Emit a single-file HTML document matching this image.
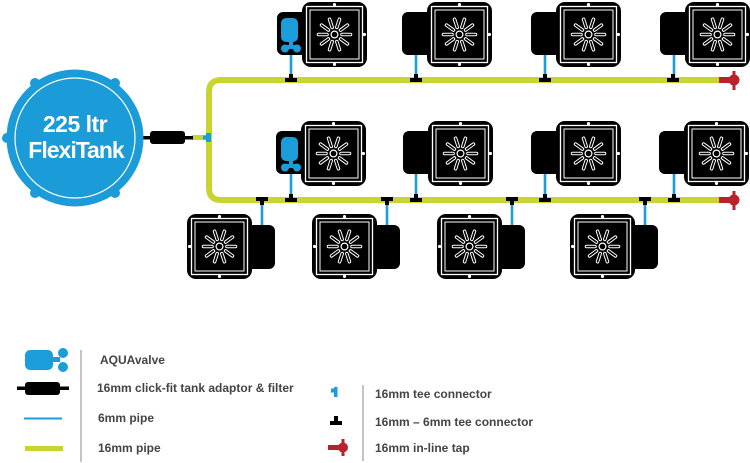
<!DOCTYPE html>
<html><head><meta charset="utf-8"><style>
html,body{margin:0;padding:0;background:#fff;}
svg{display:block;}
text{font-family:"Liberation Sans",sans-serif;}
</style></head><body>
<svg width="750" height="463" viewBox="0 0 750 463" xmlns="http://www.w3.org/2000/svg">
<defs>
  <g id="tray">
    <rect x="0" y="0" width="65" height="65" rx="9" fill="#000"/>
    <rect x="4.5" y="4.5" width="56" height="56" fill="none" stroke="#fff" stroke-width="1.3"/>
    <rect x="8" y="8" width="49" height="49" fill="none" stroke="#fff" stroke-width="1"/>
    <circle cx="32.5" cy="2.6" r="1.6" fill="#fff"/>
    <circle cx="32.5" cy="62.4" r="1.6" fill="#fff"/>
    <g transform="translate(32.5 32.5)">
      <circle r="3.4" fill="none" stroke="#fff" stroke-width="1.2"/>
      <path d="M7.5 0L16 0M6.07 4.41L12.94 9.4M2.32 7.13L4.94 15.22M-2.32 7.13L-4.94 15.22M-6.07 4.41L-12.94 9.4M-7.5 0L-16 0M-6.07 -4.41L-12.94 -9.4M-2.32 -7.13L-4.94 -15.22M2.32 -7.13L4.94 -15.22M6.07 -4.41L12.94 -9.4" stroke="#fff" stroke-width="3.6" stroke-linecap="round" fill="none"/>
      <path d="M7.5 0L16 0M6.07 4.41L12.94 9.4M2.32 7.13L4.94 15.22M-2.32 7.13L-4.94 15.22M-6.07 4.41L-12.94 9.4M-7.5 0L-16 0M-6.07 -4.41L-12.94 -9.4M-2.32 -7.13L-4.94 -15.22M2.32 -7.13L4.94 -15.22M6.07 -4.41L12.94 -9.4" stroke="#000" stroke-width="1.6" stroke-linecap="round" fill="none"/>
    </g>
  </g>
  <g id="unitL">
    <rect x="-25" y="10" width="40" height="43" rx="6" fill="#000"/>
    <use href="#tray"/>
    <circle cx="62.4" cy="32.5" r="1.6" fill="#fff"/>
  </g>
  <g id="unitR">
    <rect x="50" y="11" width="38" height="44" rx="6" fill="#000"/>
    <use href="#tray"/>
    <circle cx="2.6" cy="32.5" r="1.6" fill="#fff"/>
  </g>
  <g id="valve">
    <rect x="-21" y="16" width="17" height="24" rx="5" fill="#1b9dd9"/>
    <rect x="-13" y="38" width="4" height="9" fill="#1b9dd9"/>
    <circle cx="-17" cy="46.5" r="4" fill="#1b9dd9"/>
    <circle cx="-5" cy="46.5" r="4" fill="#1b9dd9"/>
    <rect x="-17" y="43" width="12" height="4" fill="#1b9dd9"/>
  </g>
  <g id="teeUp">
    <rect x="-6" y="-2" width="12" height="4" fill="#000"/>
    <rect x="-2" y="-6" width="4" height="5" fill="#000"/>
  </g>
  <g id="teeDown">
    <rect x="-6" y="-3" width="12" height="4" fill="#000"/>
    <rect x="-2" y="0" width="4" height="5" fill="#000"/>
  </g>
</defs>

<path d="M724 80 H221 Q209 80 209 92 V188 Q209 200 221 200 H724" fill="none" stroke="#c8d530" stroke-width="6"/>
<line x1="192" y1="137.5" x2="208" y2="137.5" stroke="#c8d530" stroke-width="5"/>

<g fill="#b8222b">
  <rect x="719" y="77" width="12" height="6"/>
  <circle cx="734" cy="80" r="5.5"/>
  <rect x="732.5" y="71" width="3" height="19"/>
  <rect x="719" y="197" width="12" height="6"/>
  <circle cx="734" cy="200" r="5.5"/>
  <rect x="732.5" y="191" width="3" height="19"/>
</g>

<g stroke="#1b9dd9" stroke-width="2.6">
  <line x1="291" y1="50" x2="291" y2="76"/>
  <line x1="416" y1="55" x2="416" y2="76"/>
  <line x1="545" y1="55" x2="545" y2="76"/>
  <line x1="674" y1="55" x2="674" y2="76"/>
  <line x1="291" y1="169" x2="291" y2="196"/>
  <line x1="416" y1="174" x2="416" y2="196"/>
  <line x1="545" y1="174" x2="545" y2="196"/>
  <line x1="674" y1="174" x2="674" y2="196"/>
  <line x1="262" y1="203" x2="262" y2="227"/>
  <line x1="387" y1="203" x2="387" y2="227"/>
  <line x1="512" y1="203" x2="512" y2="227"/>
  <line x1="645" y1="203" x2="645" y2="227"/>
</g>

<use href="#teeUp" x="291" y="80"/>
<use href="#teeUp" x="416" y="80"/>
<use href="#teeUp" x="545" y="80"/>
<use href="#teeUp" x="673" y="80"/>
<use href="#teeUp" x="291" y="200"/>
<use href="#teeUp" x="416" y="200"/>
<use href="#teeUp" x="545" y="200"/>
<use href="#teeUp" x="674" y="200"/>
<use href="#teeDown" x="262" y="200"/>
<use href="#teeDown" x="387" y="200"/>
<use href="#teeDown" x="512" y="200"/>
<use href="#teeDown" x="645" y="200"/>

<rect x="206" y="133" width="5" height="9" fill="#1b9dd9"/>
<rect x="203" y="135.5" width="4" height="4" fill="#1b9dd9"/>

<rect x="140" y="136" width="12" height="3.5" fill="#000"/>
<rect x="150" y="131" width="35" height="13" rx="3" fill="#000"/>
<rect x="184" y="136" width="9" height="3.5" fill="#000"/>

<g fill="#1b9bd7">
  <circle cx="75" cy="138" r="68.5"/>
  <circle cx="35" cy="83" r="5"/>
  <circle cx="115" cy="83" r="5"/>
  <circle cx="35" cy="193" r="5"/>
  <circle cx="115" cy="193" r="5"/>
  <circle cx="7" cy="138" r="5"/>
</g>
<circle cx="75" cy="138" r="60" fill="none" stroke="#fff" stroke-width="1.2"/>
<text x="75" y="132" text-anchor="middle" fill="#fff" font-size="23" font-weight="bold" letter-spacing="-0.5">225 ltr</text>
<text x="76" y="158" text-anchor="middle" fill="#fff" font-size="23" font-weight="bold" letter-spacing="-1">FlexiTank</text>

<use href="#unitL" x="302" y="2"/>
<use href="#valve" x="302" y="2"/>
<use href="#unitL" x="427" y="2"/>
<use href="#unitL" x="556" y="2"/>
<use href="#unitL" x="685" y="2"/>

<use href="#unitL" x="301" y="121"/>
<use href="#valve" x="302" y="121"/>
<use href="#unitL" x="428" y="121"/>
<use href="#unitL" x="556" y="121"/>
<use href="#unitL" x="684" y="121"/>

<use href="#unitR" x="187" y="214"/>
<use href="#unitR" x="312" y="214"/>
<use href="#unitR" x="437" y="214"/>
<use href="#unitR" x="570" y="214"/>

<rect x="25" y="350" width="28" height="20" rx="5" fill="#1b9dd9"/>
<rect x="52" y="357" width="8" height="5" fill="#1b9dd9"/>
<circle cx="63" cy="353" r="5" fill="#1b9dd9"/>
<circle cx="63" cy="367" r="5" fill="#1b9dd9"/>
<rect x="17" y="386.5" width="52" height="3.5" fill="#000"/>
<rect x="25" y="382" width="35" height="13" rx="3" fill="#000"/>
<line x1="24" y1="418.5" x2="62" y2="418.5" stroke="#1b9dd9" stroke-width="2"/>
<line x1="25" y1="448.5" x2="63" y2="448.5" stroke="#c8d530" stroke-width="5"/>
<line x1="81" y1="350" x2="81" y2="462" stroke="#8a8a8a" stroke-width="1"/>
<g fill="#444" font-size="12" font-weight="bold">
  <text x="100" y="364">AQUAvalve</text>
  <text x="97" y="392">16mm click-fit tank adaptor &amp; filter</text>
  <text x="98" y="422">6mm pipe</text>
  <text x="98" y="452">16mm pipe</text>
</g>

<rect x="334" y="387" width="3.5" height="10" fill="#1b9dd9"/>
<rect x="331" y="388.5" width="4" height="4" fill="#1b9dd9"/>
<rect x="330" y="421" width="12" height="4" fill="#000"/>
<rect x="334" y="416" width="4" height="6" fill="#000"/>
<rect x="328" y="445" width="12" height="5" fill="#b8222b"/>
<circle cx="343" cy="447.5" r="5" fill="#b8222b"/>
<rect x="341.5" y="439" width="3" height="17" fill="#b8222b"/>
<line x1="363" y1="385" x2="363" y2="461" stroke="#8a8a8a" stroke-width="1"/>
<g fill="#444" font-size="12" font-weight="bold">
  <text x="375" y="398">16mm tee connector</text>
  <text x="375" y="426">16mm – 6mm tee connector</text>
  <text x="375" y="452">16mm in-line tap</text>
</g>
</svg>
</body></html>
